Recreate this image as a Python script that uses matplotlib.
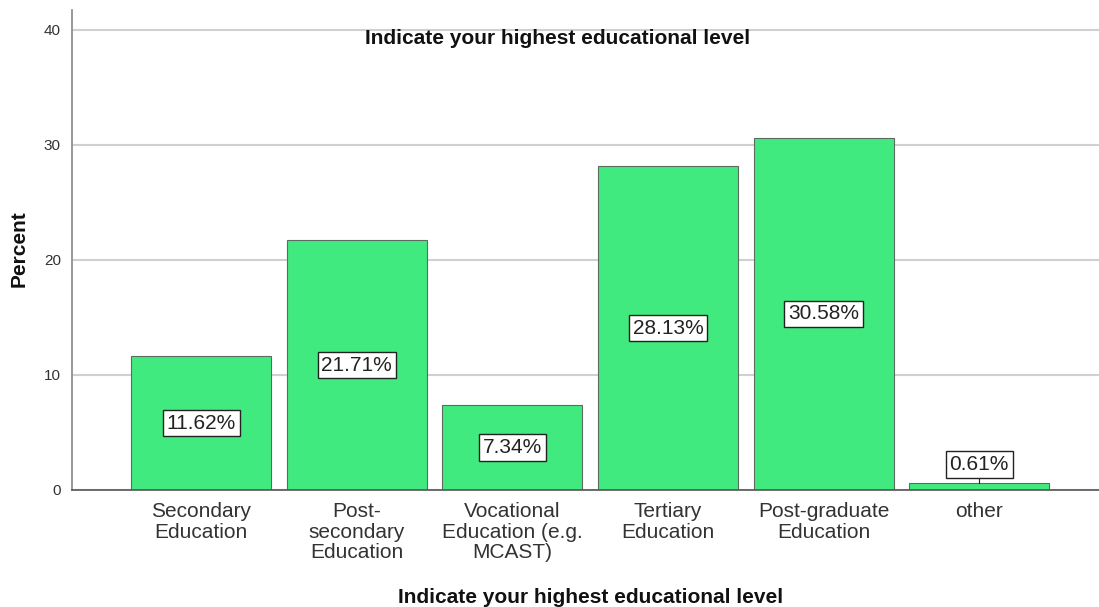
import matplotlib.pyplot as plt
import numpy as np

plt.rcParams['font.family'] = ['Liberation Sans', 'DejaVu Sans']

categories = ["Secondary\nEducation", "Post-\nsecondary\nEducation",
              "Vocational\nEducation (e.g.\nMCAST)", "Tertiary\nEducation",
              "Post-graduate\nEducation", "other"]
percents = [11.62, 21.71, 7.34, 28.13, 30.58, 0.61]
yticks = [0, 10, 20, 30, 40]

fig = plt.figure(figsize=(10.99, 6.07), dpi=100)
ax = fig.add_axes([0.0655, 0.1928, 0.9345, 0.7907])

x = np.arange(len(categories))
ax.bar(x, percents, width=0.9, color="#41ea7e", edgecolor="#5a6b5f",
       linewidth=0.8, zorder=2)

# value boxes, centred in the bar or lifted above very short bars
for xi, v in zip(x, percents):
    ypos = v / 2 if v > 4 else 2.2
    ax.text(xi, ypos, f"{v:.2f}%", ha="center", va="center", fontsize=15,
            color="#222222", zorder=4,
            bbox=dict(boxstyle="square,pad=0.18", fc="white", ec="#222222", lw=1))
    if v <= 4:
        ax.plot([xi, xi], [v, ypos - 1.1], color="#222222", lw=0.8, zorder=3)

ax.set_xlim(-0.83, 5.77)
ax.set_ylim(0, 41.7)
ax.set_yticks(yticks)
ax.set_xticks(x)
ax.set_xticklabels(categories, fontsize=15, color="#333333", linespacing=1.08)
ax.tick_params(axis="y", length=0, labelsize=11, labelcolor="#333333", pad=8)
ax.tick_params(axis="x", length=0, pad=9)
ax.yaxis.grid(True, color="#d0d0d0", linewidth=1.5, zorder=0)
ax.set_axisbelow(True)

for s in ["top", "right"]:
    ax.spines[s].set_visible(False)
ax.spines["left"].set_color("#888888")
ax.spines["left"].set_linewidth(1.2)
ax.spines["bottom"].set_color("#555555")
ax.spines["bottom"].set_linewidth(1.2)

ax.text(0.473, 0.94, "Indicate your highest educational level", transform=ax.transAxes,
        ha="center", va="center", fontsize=15, fontweight="bold", color="#111111")
fig.text(0.537, 0.016, "Indicate your highest educational level", ha="center",
         va="center", fontsize=15, fontweight="bold", color="#111111")
fig.text(0.017, 0.59, "Percent", ha="center", va="center", rotation=90,
         fontsize=15, fontweight="bold", color="#111111")

fig.savefig("out.png", dpi=100)
